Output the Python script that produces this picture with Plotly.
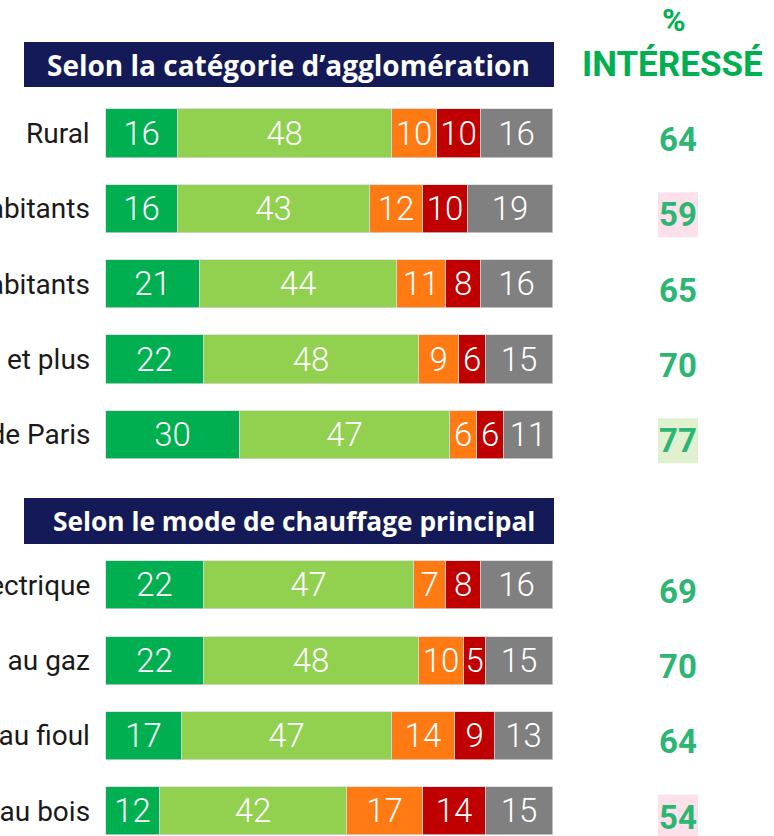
import plotly.graph_objects as go

# ---------------- data ----------------
group_titles = ["Selon la catégorie d’agglomération", "Selon le mode de chauffage principal"]
categories = [
    "Rural",
    "Moins de 20 000 habitants",
    "De 20 000 à 100 000 habitants",
    "100 000 habitants et plus",
    "Agglomération de Paris",
    "Chauffage électrique",
    "Chauffage au gaz",
    "Chauffage au fioul",
    "Chauffage au bois",
]
category_group = [0, 0, 0, 0, 0, 1, 1, 1, 1]

series_names = ["Très intéressé", "Plutôt intéressé", "Plutôt pas intéressé",
                "Pas du tout intéressé", "Ne sait pas"]
tres_interesse = [16, 16, 21, 22, 30, 22, 22, 17, 12]
plutot_interesse = [48, 43, 44, 48, 47, 47, 48, 47, 42]
plutot_pas = [10, 12, 11, 9, 6, 7, 10, 14, 17]
pas_du_tout = [10, 10, 8, 6, 6, 8, 5, 9, 14]
ne_sait_pas = [16, 19, 16, 15, 11, 16, 15, 13, 15]
pct_interesse = [64, 59, 65, 70, 77, 69, 70, 64, 54]
pct_highlight = [None, "low", None, None, "high", None, None, None, "low"]

col_title_1 = "%"
col_title_2 = "INTÉRESSÉ"

# ---------------- styles ----------------
colors = ["#00B050", "#92D050", "#FF7A12", "#C00000", "#808080"]
navy = "#131A57"
pct_color = "#2DB673"
hl_colors = {"low": "#FDE1EA", "high": "#E1F1CF"}

W, H = 774, 836
X0PX, XSCALE = 106, 4.47      # pixel of value 0, pixels per unit
Y0PX, YSCALE = 133.5, 75.3    # pixel of first row centre, pixels per slot


def xd(px):
    return (px - X0PX) / XSCALE


def yd(py):
    return (py - Y0PX) / YSCALE


# row slot positions: one empty slot before the second group (its header)
ypos = [i + g for i, g in enumerate(category_group)]

fig = go.Figure()
series_values = [tres_interesse, plutot_interesse, plutot_pas, pas_du_tout, ne_sait_pas]
for name, vals, col in zip(series_names, series_values, colors):
    fig.add_trace(go.Bar(
        name=name, x=vals, y=ypos, orientation="h",
        marker=dict(color=col, line=dict(color="rgba(215,215,215,0.9)", width=0.8)),
        width=0.64,
        text=vals, texttemplate="%{text}",
        textposition="inside", insidetextanchor="middle", textangle=0,
        constraintext="none",
        textfont=dict(family="Roboto", size=33, color="white", weight=300),
        cliponaxis=False, showlegend=False, hoverinfo="skip",
    ))

shapes = []
annotations = []

# group headers
header_px = [(42, 87), (498, 544)]
header_text_x = [288.5, 294]
header_font_size = [28, 26.3]
for (top, bot), tx, fs, title in zip(header_px, header_text_x, header_font_size, group_titles):
    shapes.append(dict(type="rect", xref="x", yref="y",
                       x0=xd(24), x1=xd(554), y0=yd(top), y1=yd(bot),
                       fillcolor=navy, line=dict(width=0), layer="below"))
    annotations.append(dict(xref="x", yref="y", x=xd(tx), y=yd((top + bot) / 2),
                            text=title, showarrow=False,
                            font=dict(family="Open Sans", size=fs, color="white", weight=700),
                            xanchor="center", yanchor="middle"))

# category labels (right aligned; the long ones run past the left page edge)
for cat, y in zip(categories, ypos):
    annotations.append(dict(xref="x", yref="y", x=xd(92), y=y, text=cat,
                            showarrow=False, xanchor="right", yanchor="middle",
                            font=dict(family="Roboto", size=28, color="#1a1a1a")))

# % intéressé column
annotations.append(dict(xref="x", yref="y", x=xd(674), y=yd(20), text=col_title_1,
                        showarrow=False, xanchor="center", yanchor="middle",
                        font=dict(family="Roboto", size=32, color="#00B050", weight=700)))
annotations.append(dict(xref="x", yref="y", x=xd(672), y=yd(64), text=col_title_2,
                        showarrow=False, xanchor="center", yanchor="middle",
                        font=dict(family="Roboto", size=35, color="#00B050", weight=700)))

for v, y, hl in zip(pct_interesse, ypos, pct_highlight):
    yc = y + 6 / YSCALE
    if hl:
        shapes.append(dict(type="rect", xref="x", yref="y",
                           x0=xd(658), x1=xd(698),
                           y0=yc - 22.5 / YSCALE, y1=yc + 22.5 / YSCALE,
                           fillcolor=hl_colors[hl], line=dict(width=0), layer="below"))
    annotations.append(dict(xref="x", yref="y", x=xd(678), y=yc, text=str(v),
                            showarrow=False, xanchor="center", yanchor="middle",
                            font=dict(family="Roboto", size=33, color=pct_color, weight=700)))

fig.update_layout(
    width=W, height=H, autosize=False,
    margin=dict(l=0, r=0, t=0, b=0),
    barmode="stack", bargap=0,
    paper_bgcolor="white", plot_bgcolor="white",
    xaxis=dict(range=[xd(0), xd(W)], visible=False, fixedrange=True),
    yaxis=dict(range=[yd(H), yd(0)], visible=False, fixedrange=True),
    shapes=shapes, annotations=annotations,
    uniformtext=dict(mode="show", minsize=10),
)

fig.write_html(
    "out.html",
    config={"displayModeBar": False},
    post_script="document.body.style.margin='0';document.body.style.overflow='hidden';",
)
